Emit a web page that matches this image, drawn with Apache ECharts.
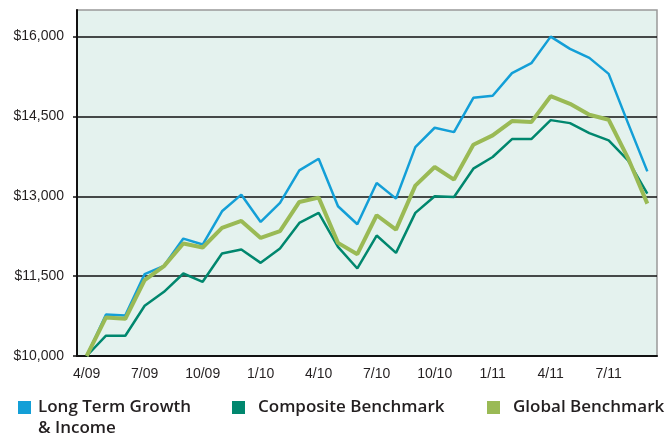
<!DOCTYPE html>
<html>
<head>
<meta charset="utf-8">
<script src="https://cdn.jsdelivr.net/npm/echarts@6/dist/echarts.min.js"></script>
<style>
  html, body { margin: 0; padding: 0; background: #ffffff; }
  #chart { width: 667px; height: 438px; }
</style>
</head>
<body>
<div id="chart"></div>
<script>
// Month-end dates, April 2009 through September 2011
const months = ['4/09','5/09','6/09','7/09','8/09','9/09','10/09','11/09','12/09',
  '1/10','2/10','3/10','4/10','5/10','6/10','7/10','8/10','9/10','10/10','11/10','12/10',
  '1/11','2/11','3/11','4/11','5/11','6/11','7/11','8/11','9/11'];

// Growth of a $10,000 investment
const growthIncome = [10000,10781,10763,11538,11694,12206,12094,12719,13031,12519,12875,13488,13706,12813,12475,
  13250,12956,13925,14288,14206,14850,14888,15313,15500,16000,15769,15600,15300,14375,13469];
const compositeBench = [10000,10381,10381,10944,11206,11550,11394,11925,12000,11750,12019,12500,12688,12050,11644,
  12263,11938,12688,13000,12988,13519,13738,14075,14075,14431,14375,14188,14050,13675,13050];
const globalBench = [10000,10725,10700,11425,11688,12113,12038,12406,12538,12219,12344,12894,12975,12125,11913,
  12644,12375,13200,13550,13313,13969,14144,14413,14394,14881,14738,14531,14438,13719,12863];

const seriesNames = ['Long Term Growth & Income', 'Composite Benchmark', 'Global Benchmark'];
const colors = ['#139fd7', '#00876e', '#9aba55'];

const yMin = 10000, yMax = 16500, yStep = 1500;

const legendFont = {
  fontFamily: 'Open Sans', fontWeight: 600, fontSize: 17, color: '#231f20', lineHeight: 22
};
const axisFont = { fontFamily: "'Liberation Sans', Arial, sans-serif", fontSize: 14, color: '#231f20' };

function legendAt(name, left, gap, label) {
  return {
    data: [name], left: left, top: 395.5, padding: 0,
    icon: 'rect', itemWidth: 13, itemHeight: 13, selectedMode: false,
    formatter: label ? () => label : '{name}',
    textStyle: Object.assign({ padding: [2, 0, 0, gap] }, legendFont)
  };
}

const chart = echarts.init(document.getElementById('chart'), null, { renderer: 'canvas' });

chart.setOption({
  animation: false,
  backgroundColor: '#ffffff',
  grid: {
    left: 77, right: 10, top: 10, bottom: 82,
    show: true, backgroundColor: '#e4f2ee', borderColor: '#999999', borderWidth: 1.5
  },
  legend: [
    legendAt(seriesNames[0], 18, 2, 'Long Term Growth'),
    legendAt(seriesNames[1], 232, 8),
    legendAt(seriesNames[2], 487, 8)
  ],
  graphic: [
    {
      // second line of the first legend entry
      type: 'text', left: 38, top: 420,
      style: { text: '& Income', fill: '#231f20', font: "600 17px 'Open Sans'" }
    }
  ],
  xAxis: [
    {
      type: 'category', data: months, boundaryGap: true,
      axisLine: { lineStyle: { color: '#111111', width: 2 } },
      axisTick: { interval: 2, length: 5, lineStyle: { color: '#111111', width: 1.5 } },
      axisLabel: Object.assign({ interval: 2, margin: 11 }, axisFont),
      splitLine: { show: false }
    },
    {
      // inner half of the crossing tick marks
      type: 'category', data: months, boundaryGap: true, position: 'bottom',
      axisLine: { show: false },
      axisTick: { interval: 2, inside: true, length: 4, lineStyle: { color: '#111111', width: 1.5 } },
      axisLabel: { show: false },
      splitLine: { show: false }
    }
  ],
  yAxis: {
    type: 'value', min: yMin, max: yMax, interval: yStep,
    axisLine: { show: true, lineStyle: { color: '#111111', width: 2 } },
    axisTick: { show: true, length: 4, lineStyle: { color: '#111111', width: 1.5 } },
    axisLabel: Object.assign({
      margin: 13, showMaxLabel: false,
      formatter: v => (v === yMax ? '' : '$' + v.toLocaleString('en-US'))
    }, axisFont),
    splitLine: { show: true, showMaxLine: false, lineStyle: { color: '#111111', width: 1.5 } }
  },
  series: [
    {
      name: seriesNames[0], type: 'line', data: growthIncome, symbol: 'none',
      lineStyle: { color: colors[0], width: 2.5 }, itemStyle: { color: colors[0] }, z: 3
    },
    {
      name: seriesNames[1], type: 'line', data: compositeBench, symbol: 'none',
      lineStyle: { color: colors[1], width: 2.5 }, itemStyle: { color: colors[1] }, z: 4
    },
    {
      name: seriesNames[2], type: 'line', data: globalBench, symbol: 'none',
      lineStyle: { color: colors[2], width: 4 }, itemStyle: { color: colors[2] }, z: 5
    }
  ]
});
</script>
</body>
</html>
